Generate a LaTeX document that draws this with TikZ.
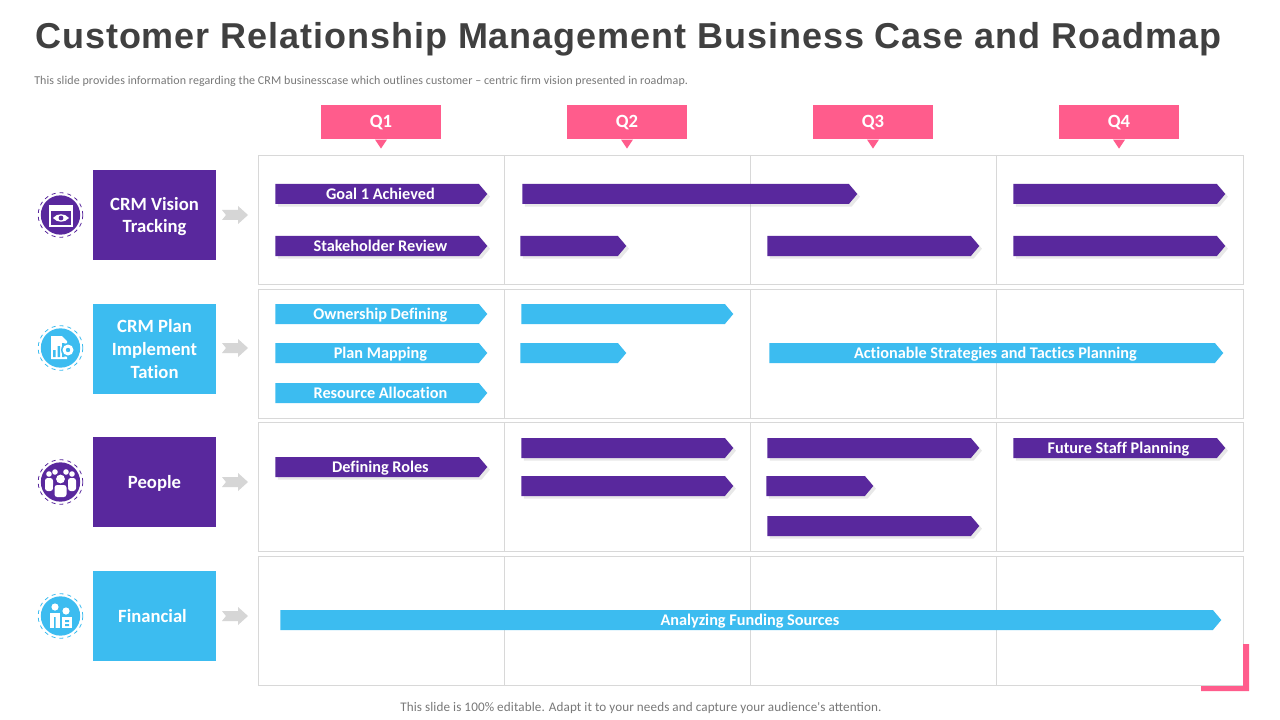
\documentclass[tikz,border=0pt]{standalone}
\usepackage{xcolor}
\usepackage{fontspec}
\setmainfont[Ligatures=NoCommon]{Carlito}
\newfontfamily\titlefont[LetterSpace=2.6]{Liberation Sans}
\newfontfamily\notefont[LetterSpace=0.8]{Carlito}
\usetikzlibrary{shapes.symbols, positioning, calc, shadows}
\definecolor{rowpurple}{RGB}{89, 40, 157}
\definecolor{rowblue}{RGB}{60, 188, 240}
\definecolor{quarterpink}{RGB}{255, 92, 140}
\definecolor{titlegrey}{RGB}{64, 64, 64}
\definecolor{notegrey}{RGB}{120, 120, 120}
\definecolor{gridgrey}{RGB}{216, 216, 216}
\definecolor{nudgegrey}{RGB}{214, 214, 214}
\tikzset{
    barbox/.style={signal, signal to=east, signal pointer angle=100, anchor=west, inner sep=0pt,
        minimum height=15pt, text height=7.6pt, text depth=0pt, text=white,
        font=\bfseries\fontsize{12.2}{13}\selectfont, execute at begin node=\hspace*{5pt}},
    purplebar/.style={barbox, fill=rowpurple, drop shadow={shadow xshift=2pt, shadow yshift=-2pt, opacity=0.18}},
    bluebar/.style={barbox, fill=rowblue},
    rowbox/.style={minimum width=92.25pt, minimum height=67.5pt, inner sep=0pt, align=center, text=white,
        text depth=0pt, font=\bfseries\fontsize{14}{17}\selectfont},
    quarterbox/.style={fill=quarterpink, minimum width=90pt, minimum height=26pt, inner sep=0pt, text=white,
        text height=8pt, text depth=0pt, font=\bfseries\fontsize{14}{16}\selectfont},
    iconcore/.style={circle, minimum size=29.5pt, inner sep=0pt},
    iconring/.style={circle, minimum size=33.5pt, inner sep=0pt, draw, dashed, line width=0.6pt},
}
\begin{document}
\begin{tikzpicture}[x=0.75pt, y=-0.75pt]
    \useasboundingbox (0,0) rectangle (1280,720);
    \fill[white] (0,0) rectangle (1280,720);

    \node[anchor=west, inner sep=0pt, text=titlegrey, font=\titlefont\bfseries\fontsize{27}{30}\selectfont] (title) at (35,39)
        {Customer Relationship Management Business Case and Roadmap};
    \node[anchor=west, inner sep=0pt, text=notegrey, font=\notefont\fontsize{9}{10}\selectfont] (subtitle) at (34,81)
        {This slide provides information regarding the CRM businesscase which outlines customer – centric firm vision presented in roadmap.};
    \node[anchor=west, inner sep=0pt, text=notegrey, font=\notefont\fontsize{9.85}{11}\selectfont] (footnote) at (400,708)
        {This slide is 100\% editable. Adapt it to your needs and capture your audience's attention.};

    % quarter heads
    \foreach \qname/\qx in {Q1/381, Q2/627, Q3/873, Q4/1119} {
        \node[quarterbox] (\qname) at (\qx,122) {\qname};
        \fill[quarterpink] ($(\qname.south)+(-6,0)$) -- ($(\qname.south)+(6,0)$) -- ($(\qname.south)+(0,9)$) -- cycle;
    }

    % grid
    \foreach \rowtop/\rowbot in {155/284, 289/418, 422/551, 556/685} {
        \draw[gridgrey, line width=0.7pt] (258,\rowtop) rectangle (1243,\rowbot);
        \foreach \colx in {504, 750, 996}
            \draw[gridgrey, line width=0.7pt] (\colx,\rowtop) -- (\colx,\rowbot);
    }

    % corner mark
    \fill[quarterpink] (1243,644) -- (1249,644) -- (1249,691) -- (1201,691) -- (1201,686) -- (1243,686) -- cycle;

    % row heads
    \node[rowbox, fill=rowpurple] (vision) at (154.5,215) {CRM Vision\\Tracking};
    \node[rowbox, fill=rowblue] (plan) at (154.5,349) {CRM Plan\\Implement\\Tation};
    \node[rowbox, fill=rowpurple] (people) at (154.5,482) {People};
    \node[rowbox, fill=rowblue] (financial) at (154.5,616) {Financial\hspace*{3pt}};

    \foreach \nudgey in {215, 348, 482, 616}
        \fill[nudgegrey] (222,\nudgey-5) -- (238,\nudgey-5) -- (238,\nudgey-9) -- (248,\nudgey)
            -- (238,\nudgey+9) -- (238,\nudgey+5) -- (222,\nudgey+5) -- (226,\nudgey) -- cycle;

    % icons
    \node[iconring, draw=rowpurple] (visionring) at (60.5,215) {};
    \node[iconcore, fill=rowpurple] (visionicon) at (60.5,215) {};
    \fill[white] (49,205) rectangle (72.5,227);
    \fill[rowpurple] (51,211) rectangle (70.5,225);
    \fill[white] (53,218) .. controls (57,213) and (65,213) .. (69,218) .. controls (65,223) and (57,223) .. (53,218) -- cycle;
    \fill[rowpurple] (61,218) circle (2.4);

    \node[iconring, draw=rowblue] (planring) at (60.5,348) {};
    \node[iconcore, fill=rowblue] (planicon) at (60.5,348) {};
    \fill[white] (51,336) -- (62,336) -- (67,341) -- (67,359) -- (51,359) -- cycle;
    \fill[rowblue] (53,350) rectangle (55.5,357) (57.5,346) rectangle (60,357) (62,343) rectangle (64.5,357);
    \fill[rowblue] (68,350) circle (7);
    \fill[white] (68,350) circle (5.5);
    \fill[rowblue] (68,350) circle (2.2);

    \node[iconring, draw=rowpurple] (peoplering) at (60.5,482) {};
    \node[iconcore, fill=rowpurple] (peopleicon) at (60.5,482) {};
    \foreach \headx in {49,72} {
        \fill[white] (\headx,474) circle (2.8);
        \fill[white, rounded corners=2pt] (\headx-4,478) rectangle (\headx+4,491);
    }
    \foreach \headx in {55,66}
        \fill[white] (\headx,472) circle (2.8);
    \fill[rowpurple] (60.5,479) circle (6);
    \fill[white] (60.5,479) circle (4.4);
    \fill[rowpurple, rounded corners=2pt] (53,484) rectangle (68,498);
    \fill[white, rounded corners=2pt] (54.5,485) rectangle (66.5,497);

    \node[iconring, draw=rowblue] (financialring) at (60.5,616) {};
    \node[iconcore, fill=rowblue] (financialicon) at (60.5,616) {};
    \fill[white] (55,607) circle (3.6);
    \fill[white] (50,613) rectangle (60,628);
    \fill[white] (66,611) circle (3.6);
    \fill[white] (62,617) rectangle (72,628);
    \fill[rowblue] (54,617) rectangle (55.5,628) (65,620) rectangle (69,622) (65,624) rectangle (69,626);

    % row 1
    \node[purplebar, minimum width=159pt] (goal) at (275,194) {Goal 1 Achieved};
    \node[purplebar, minimum width=251.25pt] (visionbarb) at (522,194) {};
    \node[purplebar, minimum width=159pt] (visionbarc) at (1013,194) {};
    \node[purplebar, minimum width=159pt] (review) at (275,246) {Stakeholder Review};
    \node[purplebar, minimum width=79.5pt] (visionbard) at (520,246) {};
    \node[purplebar, minimum width=159pt] (visionbare) at (767,246) {};
    \node[purplebar, minimum width=159pt] (visionbarf) at (1013,246) {};

    % row 2
    \node[bluebar, minimum width=159pt] (ownership) at (275,314) {Ownership Defining};
    \node[bluebar, minimum width=159pt] (planbarb) at (521,314) {};
    \node[bluebar, minimum width=159pt] (mapping) at (275,353) {Plan Mapping};
    \node[bluebar, minimum width=79.5pt] (planbarc) at (520,353) {};
    \node[bluebar, minimum width=340.5pt] (actionable) at (769,353) {Actionable Strategies and Tactics Planning};
    \node[bluebar, minimum width=159pt] (resource) at (275,393) {Resource Allocation};

    % row 3
    \node[purplebar, minimum width=159pt] (roles) at (275,467) {Defining Roles};
    \node[purplebar, minimum width=159pt] (peoplebarb) at (521,448) {};
    \node[purplebar, minimum width=159pt] (peoplebarc) at (521,486) {};
    \node[purplebar, minimum width=159pt] (peoplebard) at (767,448) {};
    \node[purplebar, minimum width=80.25pt] (peoplebare) at (766,486) {};
    \node[purplebar, minimum width=159pt] (peoplebarf) at (767,526) {};
    \node[purplebar, minimum width=159pt] (staff) at (1013,448) {Future Staff Planning};

    % row 4
    \node[bluebar, minimum width=705.75pt] (funding) at (280,620) {Analyzing Funding Sources};
\end{tikzpicture}
\end{document}
